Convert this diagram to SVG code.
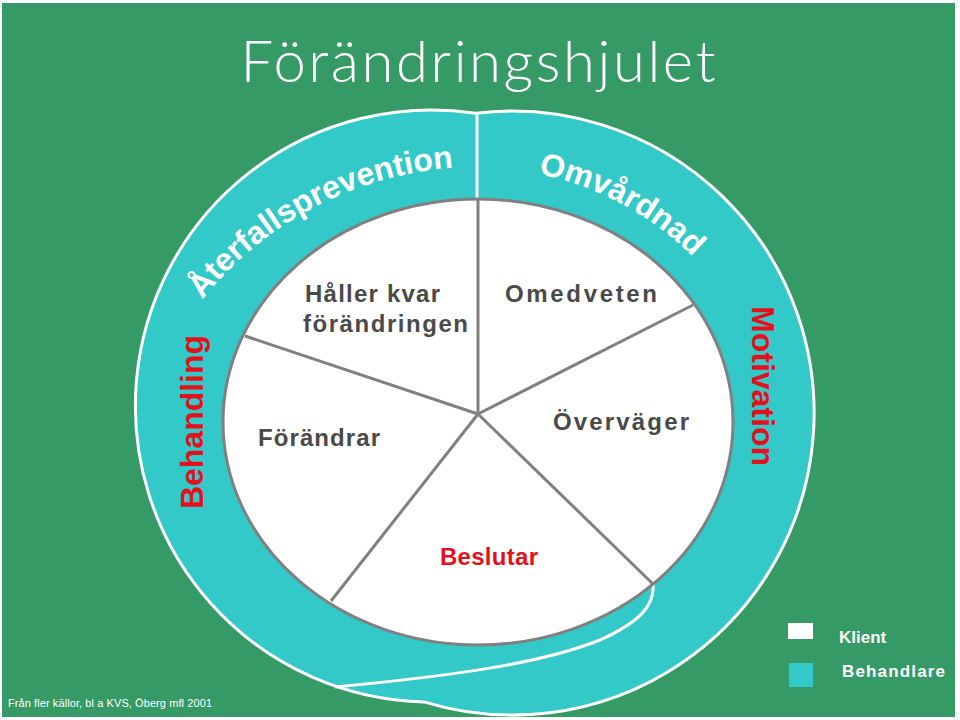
<svg xmlns="http://www.w3.org/2000/svg" width="960" height="720" viewBox="0 0 960 720">
<defs>
<style>
.lbl{font-family:"Liberation Sans",Arial,sans-serif;font-weight:bold;font-size:24px;fill:#4a4a4a}
.red{font-family:"Liberation Sans",Arial,sans-serif;font-weight:bold;fill:#e2111b}
.arc{font-family:"Liberation Sans",Arial,sans-serif;font-weight:bold;font-size:32px;fill:#ffffff}
.leg{font-family:"Liberation Sans",Arial,sans-serif;font-weight:bold;font-size:17px;fill:#ffffff}
.spoke{stroke:#808080;stroke-width:3;fill:none}
</style>
<clipPath id="page"><rect x="2" y="3" width="953" height="714"/></clipPath>
<path id="arcA" d="M125,520 A353,353 0 0 1 831,520"/>
<path id="arcB" d="M174,472 A304,304 0 0 1 782,472"/>
</defs>
<rect x="0" y="0" width="960" height="720" fill="#ffffff"/>
<rect id="background" x="2" y="3" width="953" height="714" fill="#359a66"/>
<text x="478" y="82" text-anchor="middle" font-family="Lato,'Open Sans','Liberation Sans',sans-serif" font-weight="300" font-size="58" fill="#ffffff" textLength="475">Förändringshjulet</text>
<g id="ring" clip-path="url(#page)">
<path d="M475.5,113.3 A302,302 0 1 1 423.9,701.9 A296,296 0 1 1 475.5,113.3 Z" fill="#33c9c9" stroke="#ffffff" stroke-width="3"/>
<line x1="477" y1="113" x2="477" y2="200" stroke="#ffffff" stroke-width="3"/>
<path d="M653,584 C655,605 640,622 600,640 C540,664 450,676 335,687" fill="none" stroke="#ffffff" stroke-width="3"/>
</g>
<g id="wheel">
<ellipse cx="478" cy="422" rx="255" ry="223" fill="#ffffff" stroke="#808080" stroke-width="3"/>
</g>
<g id="connectors">
<line class="spoke" x1="478" y1="414" x2="478" y2="199"/>
<line class="spoke" x1="478" y1="414" x2="693" y2="305"/>
<line class="spoke" x1="478" y1="414" x2="653" y2="584"/>
<line class="spoke" x1="478" y1="414" x2="331" y2="601"/>
<line class="spoke" x1="478" y1="414" x2="245" y2="336"/>
</g>
<g id="node-haller">
<text class="lbl" x="305" y="302" textLength="135">Håller kvar</text>
<text class="lbl" x="303" y="332" textLength="165">förändringen</text>
</g>
<g id="node-omedveten"><text class="lbl" x="505" y="302" textLength="152">Omedveten</text></g>
<g id="node-forandrar"><text class="lbl" x="258" y="446" textLength="122">Förändrar</text></g>
<g id="node-overvager"><text class="lbl" x="553" y="430" textLength="136">Överväger</text></g>
<g id="node-beslutar"><text class="red" font-size="24" x="440" y="565" textLength="98">Beslutar</text></g>
<g id="label-behandling"><text class="red" font-size="32" transform="translate(203,422) rotate(-90)" text-anchor="middle">Behandling</text></g>
<g id="label-motivation"><text class="red" font-size="32" transform="translate(752,386) rotate(90)" text-anchor="middle">Motivation</text></g>
<g id="label-aterfall"><text class="arc"><textPath href="#arcA" startOffset="238">Återfallsprevention</textPath></text></g>
<g id="label-omvardnad"><text class="arc"><textPath href="#arcB" startOffset="538">Omvårdnad</textPath></text></g>
<g id="legend">
<rect x="788" y="623" width="25" height="16" fill="#ffffff"/>
<text class="leg" x="839" y="643">Klient</text>
<rect x="789" y="663" width="24" height="24" fill="#33c9c9"/>
<text class="leg" x="842" y="677" textLength="103">Behandlare</text>
</g>
<text x="8" y="707" font-family="'Liberation Sans',Arial,sans-serif" font-size="11" fill="#ffffff" textLength="204">Från fler källor, bl a KVS, Öberg mfl 2001</text>
</svg>
